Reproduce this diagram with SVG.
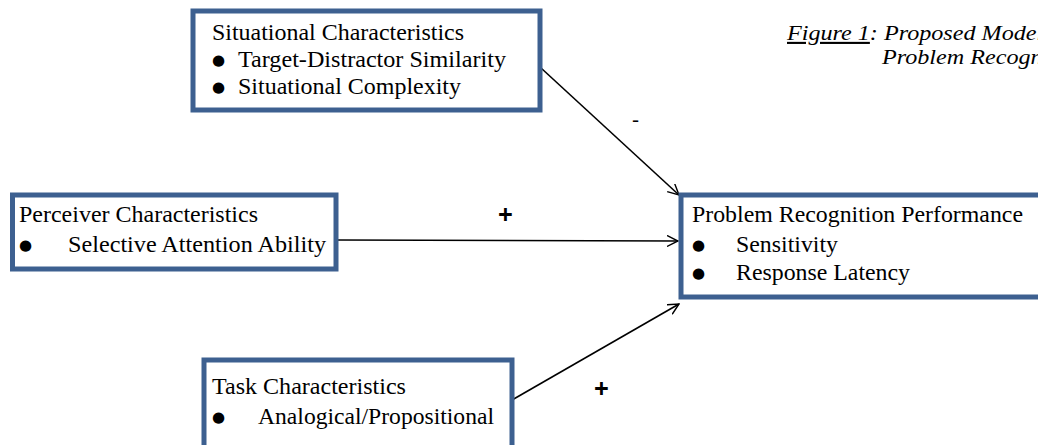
<svg xmlns="http://www.w3.org/2000/svg" width="1038" height="445" viewBox="0 0 1038 445">
<style>
.box{fill:#fff;stroke:#3d6090;stroke-width:5}
.t{font-family:"Liberation Serif","Times New Roman",serif;font-size:23px;fill:#000}
.b{font-family:"DejaVu Sans",sans-serif;font-size:15px;fill:#000}
.cap{font-family:"Liberation Serif","Times New Roman",serif;font-size:21px;font-style:italic;fill:#000}
.lbl{font-family:"Open Sans","Liberation Sans",sans-serif;font-size:26px;font-weight:bold;fill:#000}
.c{stroke:#000;stroke-width:1.6;fill:none;marker-end:url(#ah)}
</style>
<defs>
<marker id="ah" viewBox="0 0 12 12" refX="11" refY="6" markerWidth="12" markerHeight="12" markerUnits="userSpaceOnUse" orient="auto">
<path d="M0,0.5 L11,6 L0,11.5" fill="none" stroke="#000" stroke-width="1.4"/>
</marker>
</defs>
<rect width="1038" height="445" fill="#fff"/>
<g id="caption">
<text class="cap" transform="translate(787,40) scale(1.15,1)"><tspan text-decoration="underline">Figure 1</tspan>: Proposed Model</text>
<text class="cap" transform="translate(882,64) scale(1.15,1)">Problem Recognition</text>
</g>
<g id="connectors">
<line class="c" x1="541" y1="68" x2="679" y2="195"/>
<line class="c" x1="337" y1="240" x2="678" y2="241"/>
<line class="c" x1="512" y1="400" x2="679" y2="304"/>
<text class="lbl" x="632" y="127" style="font-weight:normal;font-size:22px">-</text>
<text class="lbl" x="498" y="224">+</text>
<text class="lbl" x="594" y="398">+</text>
</g>
<g id="situational">
<rect class="box" x="193" y="11" width="347" height="99"/>
<text class="t" x="212" y="40" textLength="252" lengthAdjust="spacingAndGlyphs">Situational Characteristics</text>
<text class="b" x="212" y="65">●</text>
<text class="t" x="238" y="67" textLength="268" lengthAdjust="spacingAndGlyphs">Target-Distractor Similarity</text>
<text class="b" x="212" y="92">●</text>
<text class="t" x="238" y="94" textLength="223" lengthAdjust="spacingAndGlyphs">Situational Complexity</text>
</g>
<g id="perceiver">
<rect class="box" x="12.5" y="195" width="323.5" height="74"/>
<text class="t" x="19" y="222" textLength="239" lengthAdjust="spacingAndGlyphs">Perceiver Characteristics</text>
<text class="b" x="19" y="250">●</text>
<text class="t" x="68" y="252" textLength="258" lengthAdjust="spacingAndGlyphs">Selective Attention Ability</text>
</g>
<g id="problem">
<rect class="box" x="681" y="195" width="380" height="102"/>
<text class="t" x="692" y="222" textLength="331" lengthAdjust="spacingAndGlyphs">Problem Recognition Performance</text>
<text class="b" x="692" y="250">●</text>
<text class="t" x="736" y="252" textLength="102" lengthAdjust="spacingAndGlyphs">Sensitivity</text>
<text class="b" x="692" y="278">●</text>
<text class="t" x="736" y="280" textLength="174" lengthAdjust="spacingAndGlyphs">Response Latency</text>
</g>
<g id="task">
<rect class="box" x="204" y="360" width="308" height="100"/>
<text class="t" x="212" y="394" textLength="194" lengthAdjust="spacingAndGlyphs">Task Characteristics</text>
<text class="b" x="212" y="422">●</text>
<text class="t" x="258" y="424" textLength="236" lengthAdjust="spacingAndGlyphs">Analogical/Propositional</text>
</g>
</svg>
